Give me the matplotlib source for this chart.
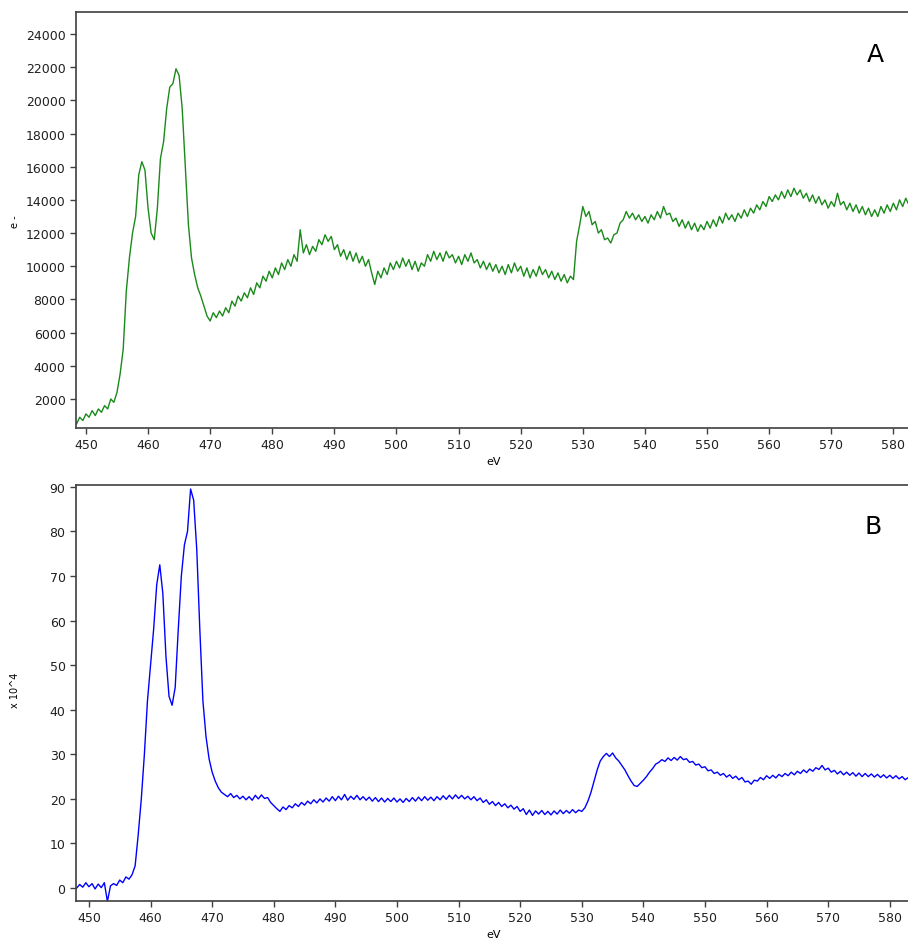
import matplotlib
matplotlib.use("Agg")
import matplotlib.pyplot as plt
import numpy as np

# spectrum A: electron counts, 0.5 eV steps from 448.5 eV
start_a = 448.5
counts_a = [
    500, 900, 700, 1100, 900, 1300, 1000, 1400, 1200, 1600,
    1400, 2000, 1800, 2400, 3500, 5000, 8500, 10500, 12000, 13000,
    15500, 16300, 15800, 13500, 12000, 11600, 13500, 16500, 17500, 19500,
    20800, 21000, 21900, 21500, 19500, 16000, 12500, 10500, 9500, 8700,
    8200, 7600, 7000, 6700, 7200, 6900, 7300, 7000, 7500, 7200,
    7900, 7600, 8200, 7900, 8400, 8100, 8700, 8300, 9000, 8700,
    9400, 9100, 9700, 9300, 9900, 9500, 10200, 9800, 10400, 10000,
    10700, 10300, 12200, 10800, 11300, 10700, 11200, 10900, 11600, 11300,
    11900, 11500, 11800, 11000, 11300, 10600, 11000, 10400, 10900, 10300,
    10800, 10200, 10600, 10000, 10400, 9600, 8900, 9700, 9300, 9900,
    9500, 10200, 9800, 10300, 9900, 10500, 10000, 10400, 9800, 10300,
    9700, 10200, 10000, 10700, 10300, 10900, 10400, 10800, 10300, 10900,
    10500, 10700, 10200, 10600, 10100, 10700, 10300, 10800, 10200, 10400,
    9900, 10300, 9800, 10200, 9700, 10100, 9600, 10000, 9500, 10100,
    9600, 10200, 9700, 10000, 9400, 9900, 9300, 9800, 9400, 10000,
    9500, 9800, 9300, 9700, 9200, 9600, 9100, 9500, 9000, 9400,
    9200, 11500, 12500, 13600, 13000, 13300, 12500, 12700, 12000, 12200,
    11600, 11700, 11400, 11900, 12000, 12600, 12800, 13300, 12900, 13200,
    12800, 13100, 12700, 13000, 12600, 13100, 12800, 13300, 12900, 13600,
    13100, 13200, 12700, 12900, 12400, 12800, 12300, 12700, 12200, 12600,
    12100, 12500, 12200, 12700, 12300, 12800, 12400, 13000, 12600, 13200,
    12800, 13100, 12700, 13200, 12900, 13400, 13000, 13500, 13200, 13700,
    13400, 13900, 13600, 14200, 13900, 14300, 14000, 14500, 14100, 14600,
    14200, 14700, 14300, 14600, 14100, 14400, 13900, 14300, 13800, 14200,
    13700, 14000, 13500, 13900, 13600, 14400, 13700, 13900, 13400, 13800,
    13300, 13700, 13200, 13600, 13100, 13500, 13000, 13400, 13000, 13600,
    13200, 13700, 13300, 13800, 13400, 14000, 13600, 14100, 13700, 12500,
]

# spectrum B: x 10^4, 0.5 eV steps from 448.0 eV
start_b = 448.0
values_b = [
    0.0, 0.8, 0.2, 1.2, 0.3, 1.0, -0.2, 0.9, 0.1, 1.2,
    -3.0, 0.5, 1.0, 0.6, 1.8, 1.2, 2.5, 2.0, 3.0, 5.0,
    12.0, 20.0, 30.0, 42.0, 50.0, 58.0, 68.0, 72.5, 66.0, 52.0,
    43.0, 41.0, 45.0, 58.0, 70.0, 77.0, 80.0, 89.5, 87.0, 76.0,
    58.0, 42.0, 34.0, 29.0, 26.0, 24.0, 22.5, 21.5, 21.0, 20.5,
    21.2, 20.3, 20.8, 20.0, 20.6, 19.8, 20.5, 19.7, 20.8, 20.0,
    20.9, 20.1, 20.3, 19.2, 18.5, 17.8, 17.2, 18.2, 17.6, 18.5,
    18.0, 18.9, 18.3, 19.2, 18.6, 19.5, 18.9, 19.8, 19.1, 20.0,
    19.3, 20.2, 19.5, 20.5, 19.6, 20.6, 19.8, 21.0, 19.7, 20.6,
    19.9, 20.8, 19.8, 20.5, 19.7, 20.4, 19.5, 20.3, 19.4, 20.2,
    19.3, 20.1, 19.4, 20.2, 19.3, 20.0, 19.2, 20.1, 19.4, 20.3,
    19.5, 20.4, 19.6, 20.5, 19.7, 20.4, 19.6, 20.5, 19.8, 20.7,
    19.9, 20.8, 20.0, 20.9, 20.1, 20.8, 20.0, 20.6, 19.8, 20.5,
    19.6, 20.2, 19.2, 19.8, 18.8, 19.4, 18.5, 19.2, 18.3, 18.9,
    18.0, 18.6, 17.7, 18.3, 17.2, 17.8, 16.5, 17.5, 16.3, 17.3,
    16.6, 17.4, 16.5, 17.2, 16.4, 17.3, 16.6, 17.5, 16.7, 17.4,
    16.8, 17.6, 16.9, 17.5, 17.2, 18.0, 19.5, 21.5, 24.0, 26.5,
    28.5, 29.5, 30.2, 29.5, 30.3, 29.2, 28.5, 27.5, 26.5, 25.2,
    24.0, 23.0, 22.8, 23.5, 24.2, 25.0, 26.0, 26.8, 27.8, 28.2,
    28.8, 28.4, 29.2, 28.6, 29.3, 28.7, 29.5, 28.8, 29.0, 28.2,
    28.4, 27.6, 27.8, 27.0, 27.2, 26.3, 26.5, 25.7, 26.0, 25.3,
    25.7, 24.9, 25.4, 24.6, 25.1, 24.3, 24.8, 23.8, 24.0, 23.3,
    24.2, 24.0, 24.8, 24.3, 25.2, 24.6, 25.3, 24.7, 25.5, 25.0,
    25.7, 25.2, 26.0, 25.4, 26.2, 25.7, 26.5, 25.9, 26.7, 26.2,
    27.0, 26.6, 27.5, 26.5, 26.9, 26.0, 26.4, 25.6, 26.2, 25.4,
    26.0, 25.3, 25.9, 25.1, 25.8, 25.0, 25.7, 25.0, 25.6, 24.9,
    25.5, 24.8, 25.4, 24.7, 25.3, 24.6, 25.2, 24.5, 25.0, 24.3,
    24.8, 24.5,
]

ev_a = start_a + 0.5 * np.arange(len(counts_a))
ev_b = start_b + 0.5 * np.arange(len(values_b))

xticks = list(range(450, 590, 10))
yticks_a = list(range(2000, 26000, 2000))
yticks_b = list(range(0, 100, 10))

fig = plt.figure(figsize=(9.08, 9.45), dpi=100)
ax1 = fig.add_axes([0.0837, 0.546, 0.92, 0.4402])
ax2 = fig.add_axes([0.0837, 0.0455, 0.92, 0.4402])


def style(ax):
    for s in ax.spines.values():
        s.set_color("#404040")
        s.set_linewidth(1.2)
    ax.tick_params(direction="out", length=4, width=1, color="#404040",
                   labelsize=9, labelcolor="#202020", top=False, right=False)
    ax.set_xticks(xticks)


ax1.plot(ev_a, counts_a, color="#1a8a1a", lw=1.0)
ax1.set_xlim(448.4, 582.9)
ax1.set_ylim(250, 25320)
style(ax1)
ax1.set_yticks(yticks_a)
ax1.set_xlabel("eV", fontsize=8, labelpad=3)

ax2.plot(ev_b, values_b, color="#0000ff", lw=1.0)
ax2.set_xlim(447.9, 583.5)
ax2.set_ylim(-2.9, 90.4)
style(ax2)
ax2.set_yticks(yticks_b)
ax2.set_xlabel("eV", fontsize=8, labelpad=3)

fig.text(15 / 908, 1 - 222 / 945, "e -", rotation=90, fontsize=7,
         ha="center", va="center")
fig.text(15 / 908, 1 - 690 / 945, "x 10^4", rotation=90, fontsize=7,
         ha="center", va="center")
fig.text(875 / 908, 1 - 55 / 945, "A", fontsize=18, ha="center", va="center")
fig.text(873 / 908, 1 - 527 / 945, "B", fontsize=18, ha="center", va="center")

fig.savefig("out.png", dpi=100)
